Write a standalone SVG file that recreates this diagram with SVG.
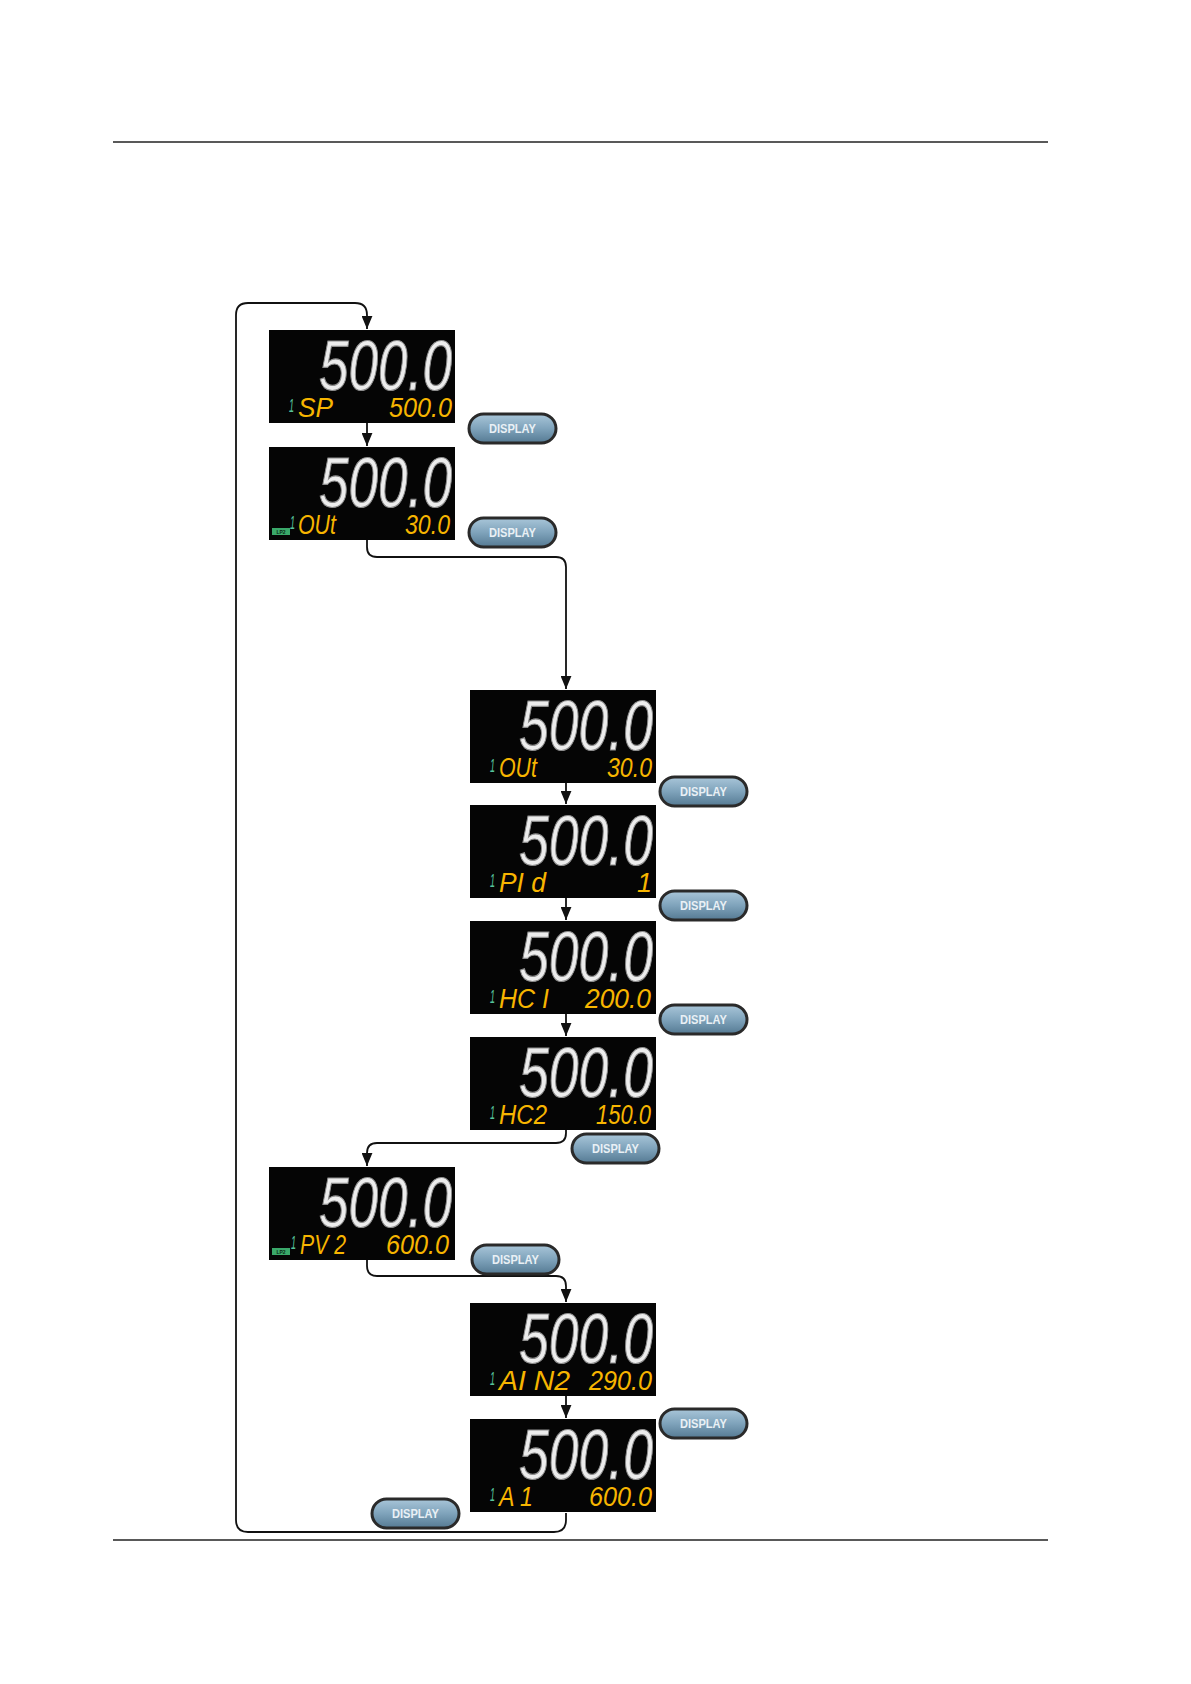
<svg xmlns="http://www.w3.org/2000/svg" width="1191" height="1684" viewBox="0 0 1191 1684">
<style>
.scr{fill:#050505}
.big{font-family:"Liberation Sans",sans-serif;font-style:italic;font-size:70px;fill:#ececec;stroke:#8c8c8c;stroke-width:1.2;text-anchor:end}
.lbl{font-family:"Liberation Sans",sans-serif;font-style:italic;font-size:27px;fill:#f7b500}
.val{font-family:"Liberation Sans",sans-serif;font-style:italic;font-size:27px;fill:#f7b500;text-anchor:end}
.one{font-family:"Liberation Sans",sans-serif;font-style:italic;font-size:19px;fill:#55c29c}
.lp{fill:#3aa86a}
.lpt{font-family:"Liberation Sans",sans-serif;font-size:5px;fill:#0a2a14;text-anchor:middle;font-weight:bold}
.btn{fill:url(#bg);stroke:#2a2a2a;stroke-width:3}
.btt{font-family:"Liberation Sans",sans-serif;font-weight:bold;font-size:13px;fill:#e9f0f5;text-anchor:middle}
.con{fill:none;stroke:#111;stroke-width:1.8;marker-end:url(#ah)}
.rule{stroke:#222;stroke-width:1.3}
</style>
<defs>
<linearGradient id="bg" x1="0" y1="0" x2="0" y2="1">
<stop offset="0" stop-color="#a9c6d9"/>
<stop offset="0.5" stop-color="#7fa3bb"/>
<stop offset="1" stop-color="#557a93"/>
</linearGradient>
<marker id="ah" markerUnits="userSpaceOnUse" viewBox="0 0 12 10" refX="12" refY="5" markerWidth="13" markerHeight="11" orient="auto">
<path d="M0,0 L12,5 L0,10 z" fill="#111"/>
</marker>
</defs>
<line class="rule" x1="113" y1="142" x2="1048" y2="142"/>
<line class="rule" x1="113" y1="1540" x2="1048" y2="1540"/>

<g id="connectors">
<path class="con" d="M566,1513 L566,1520 Q566,1532 554,1532 L248,1532 Q236,1532 236,1520 L236,315 Q236,303 248,303 L355,303 Q367,303 367,315 L367,329"/>
<path class="con" d="M367,423 L367,446"/>
<path class="con" d="M367,540 L367,547 Q367,557 377,557 L556,557 Q566,557 566,567 L566,689"/>
<path class="con" d="M566,783 L566,804"/>
<path class="con" d="M566,898 L566,920"/>
<path class="con" d="M566,1014 L566,1036"/>
<path class="con" d="M566,1130 L566,1133 Q566,1143 556,1143 L377,1143 Q367,1143 367,1153 L367,1166"/>
<path class="con" d="M367,1260 L367,1266 Q367,1276 377,1276 L556,1276 Q566,1276 566,1286 L566,1302"/>
<path class="con" d="M566,1396 L566,1418"/>
</g>

<g id="n1" transform="translate(269,330)">
<rect class="scr" width="186" height="93"/>
<text class="big" x="183" y="60" textLength="133" lengthAdjust="spacingAndGlyphs">500.0</text>
<text class="one" x="20" y="82" textLength="5" lengthAdjust="spacingAndGlyphs">1</text>
<text class="lbl" x="29" y="87" textLength="35" lengthAdjust="spacingAndGlyphs">SP</text>
<text class="val" x="183" y="87" textLength="63" lengthAdjust="spacingAndGlyphs">500.0</text>
</g>
<g id="n2" transform="translate(269,447)">
<rect class="scr" width="186" height="93"/>
<text class="big" x="183" y="60" textLength="133" lengthAdjust="spacingAndGlyphs">500.0</text>
<line x1="15" y1="85" x2="21" y2="85" stroke="#55c29c" stroke-width="1.5"/>
<text class="one" x="21" y="82" textLength="5" lengthAdjust="spacingAndGlyphs">1</text>
<rect class="lp" x="3" y="81" width="18" height="7"/>
<text class="lpt" x="12" y="86.5">LP2</text>
<text class="lbl" x="29" y="87" textLength="38" lengthAdjust="spacingAndGlyphs">OUt</text>
<text class="val" x="181" y="87" textLength="45" lengthAdjust="spacingAndGlyphs">30.0</text>
</g>
<g id="n3" transform="translate(470,690)">
<rect class="scr" width="186" height="93"/>
<text class="big" x="183" y="60" textLength="134" lengthAdjust="spacingAndGlyphs">500.0</text>
<text class="one" x="20" y="82" textLength="5" lengthAdjust="spacingAndGlyphs">1</text>
<text class="lbl" x="29" y="87" textLength="38" lengthAdjust="spacingAndGlyphs">OUt</text>
<text class="val" x="182" y="87" textLength="45" lengthAdjust="spacingAndGlyphs">30.0</text>
</g>
<g id="n4" transform="translate(470,805)">
<rect class="scr" width="186" height="93"/>
<text class="big" x="183" y="60" textLength="134" lengthAdjust="spacingAndGlyphs">500.0</text>
<text class="one" x="20" y="82" textLength="5" lengthAdjust="spacingAndGlyphs">1</text>
<text class="lbl" x="29" y="87" textLength="47" lengthAdjust="spacingAndGlyphs">PI d</text>
<text class="val" x="182" y="87">1</text>
</g>
<g id="n5" transform="translate(470,921)">
<rect class="scr" width="186" height="93"/>
<text class="big" x="183" y="60" textLength="134" lengthAdjust="spacingAndGlyphs">500.0</text>
<text class="one" x="20" y="82" textLength="5" lengthAdjust="spacingAndGlyphs">1</text>
<text class="lbl" x="29" y="87" textLength="50" lengthAdjust="spacingAndGlyphs">HC I</text>
<text class="val" x="181" y="87" textLength="66" lengthAdjust="spacingAndGlyphs">200.0</text>
</g>
<g id="n6" transform="translate(470,1037)">
<rect class="scr" width="186" height="93"/>
<text class="big" x="183" y="60" textLength="134" lengthAdjust="spacingAndGlyphs">500.0</text>
<text class="one" x="20" y="82" textLength="5" lengthAdjust="spacingAndGlyphs">1</text>
<text class="lbl" x="29" y="87" textLength="48" lengthAdjust="spacingAndGlyphs">HC2</text>
<text class="val" x="181" y="87" textLength="55" lengthAdjust="spacingAndGlyphs">150.0</text>
</g>
<g id="n7" transform="translate(269,1167)">
<rect class="scr" width="186" height="93"/>
<text class="big" x="183" y="60" textLength="133" lengthAdjust="spacingAndGlyphs">500.0</text>
<line x1="15" y1="85" x2="21" y2="85" stroke="#55c29c" stroke-width="1.5"/>
<text class="one" x="22" y="82" textLength="5" lengthAdjust="spacingAndGlyphs">1</text>
<rect class="lp" x="3" y="81" width="18" height="7"/>
<text class="lpt" x="12" y="86.5">LP2</text>
<text class="lbl" x="31" y="87" textLength="46" lengthAdjust="spacingAndGlyphs">PV 2</text>
<text class="val" x="180" y="87" textLength="63" lengthAdjust="spacingAndGlyphs">600.0</text>
</g>
<g id="n8" transform="translate(470,1303)">
<rect class="scr" width="186" height="93"/>
<text class="big" x="183" y="60" textLength="134" lengthAdjust="spacingAndGlyphs">500.0</text>
<text class="one" x="20" y="82" textLength="5" lengthAdjust="spacingAndGlyphs">1</text>
<text class="lbl" x="29" y="87" textLength="71" lengthAdjust="spacingAndGlyphs">AI N2</text>
<text class="val" x="182" y="87" textLength="63" lengthAdjust="spacingAndGlyphs">290.0</text>
</g>
<g id="n9" transform="translate(470,1419)">
<rect class="scr" width="186" height="93"/>
<text class="big" x="183" y="60" textLength="134" lengthAdjust="spacingAndGlyphs">500.0</text>
<text class="one" x="20" y="82" textLength="5" lengthAdjust="spacingAndGlyphs">1</text>
<text class="lbl" x="29" y="87" textLength="34" lengthAdjust="spacingAndGlyphs">A 1</text>
<text class="val" x="182" y="87" textLength="63" lengthAdjust="spacingAndGlyphs">600.0</text>
</g>

<g id="b1"><rect class="btn" x="469" y="414" width="87" height="29" rx="14.5"/><text class="btt" x="512.5" y="433" textLength="47" lengthAdjust="spacingAndGlyphs">DISPLAY</text></g>
<g id="b2"><rect class="btn" x="469" y="518" width="87" height="29" rx="14.5"/><text class="btt" x="512.5" y="537" textLength="47" lengthAdjust="spacingAndGlyphs">DISPLAY</text></g>
<g id="b3"><rect class="btn" x="660" y="777" width="87" height="29" rx="14.5"/><text class="btt" x="703.5" y="796" textLength="47" lengthAdjust="spacingAndGlyphs">DISPLAY</text></g>
<g id="b4"><rect class="btn" x="660" y="891" width="87" height="29" rx="14.5"/><text class="btt" x="703.5" y="910" textLength="47" lengthAdjust="spacingAndGlyphs">DISPLAY</text></g>
<g id="b5"><rect class="btn" x="660" y="1005" width="87" height="29" rx="14.5"/><text class="btt" x="703.5" y="1024" textLength="47" lengthAdjust="spacingAndGlyphs">DISPLAY</text></g>
<g id="b6"><rect class="btn" x="572" y="1134" width="87" height="29" rx="14.5"/><text class="btt" x="615.5" y="1153" textLength="47" lengthAdjust="spacingAndGlyphs">DISPLAY</text></g>
<g id="b7"><rect class="btn" x="472" y="1245" width="87" height="29" rx="14.5"/><text class="btt" x="515.5" y="1264" textLength="47" lengthAdjust="spacingAndGlyphs">DISPLAY</text></g>
<g id="b8"><rect class="btn" x="660" y="1409" width="87" height="29" rx="14.5"/><text class="btt" x="703.5" y="1428" textLength="47" lengthAdjust="spacingAndGlyphs">DISPLAY</text></g>
<g id="b9"><rect class="btn" x="372" y="1499" width="87" height="29" rx="14.5"/><text class="btt" x="415.5" y="1518" textLength="47" lengthAdjust="spacingAndGlyphs">DISPLAY</text></g>
</svg>
